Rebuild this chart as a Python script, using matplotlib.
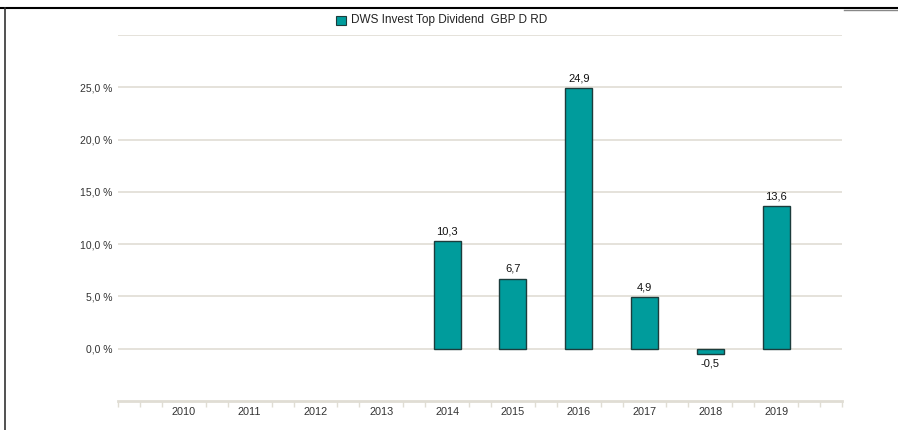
import numpy as np
import matplotlib.pyplot as plt
from matplotlib.lines import Line2D
from matplotlib.patches import Rectangle

plt.rcParams['font.family'] = ['Liberation Sans', 'DejaVu Sans']

# --- Datos ---------------------------------------------------------------
years = ['2010', '2011', '2012', '2013', '2014', '2015', '2016', '2017', '2018', '2019']
values = [np.nan, np.nan, np.nan, np.nan, 10.3, 6.7, 24.9, 4.9, -0.5, 13.6]
series_name = 'DWS Invest Top Dividend  GBP D RD'
y_ticks = [0, 5, 10, 15, 20, 25]

bar_col = '#009c9c'
edge_col = '#1c3c3c'
grid_col = '#e0ddd4'

# --- Figura --------------------------------------------------------------
fig = plt.figure(figsize=(8.98, 4.30), dpi=100)
ax = fig.add_axes([118/898, 1-401/430, (842-118)/898, (401-35)/430])

x = np.arange(len(years))
ax.bar(x, values, width=0.41, color=bar_col, edgecolor=edge_col, linewidth=1, zorder=3)

# etiquetas de valor
for xi, v in zip(x, values):
    if np.isnan(v):
        continue
    lab = f'{v:.1f}'.replace('.', ',')
    if v >= 0:
        ax.annotate(lab, (xi, v), xytext=(0, 3.5), textcoords='offset points',
                    ha='center', va='bottom', fontsize=8, color='#111111')
    else:
        ax.annotate(lab, (xi, v), xytext=(0, -3.5), textcoords='offset points',
                    ha='center', va='top', fontsize=8, color='#111111')

ax.set_xlim(-1, len(years))
ax.set_ylim(-5, 30)

# lineas de grilla horizontales
for yv in y_ticks + [30]:
    ax.axhline(yv, color=grid_col, linewidth=1.2, zorder=1)

ax.set_yticks(y_ticks)
ax.set_yticklabels([f'{t:.1f} %'.replace('.', ',') for t in y_ticks])
ax.tick_params(axis='y', length=0, pad=4, labelsize=7.5, labelcolor='#333333')

ax.set_xticks(x)
ax.set_xticklabels(years)
minor = [c + d for c in range(-1, len(years) + 1) for d in (-1/3, 1/3)]
minor += [-1, len(years)]
ax.set_xticks([m for m in minor if -1 <= m <= len(years)], minor=True)
ax.tick_params(axis='x', which='major', length=0, pad=4, labelsize=7.8, labelcolor='#333333')
ax.tick_params(axis='x', which='minor', length=4, width=1, color=grid_col, direction='out')

for s in ['top', 'right', 'left']:
    ax.spines[s].set_visible(False)
ax.spines['bottom'].set_color(grid_col)
ax.spines['bottom'].set_linewidth(2)

# --- Leyenda -------------------------------------------------------------
fig.patches.append(Rectangle((336/898, 1-25/430), 10/898, 9/430, transform=fig.transFigure,
                             facecolor=bar_col, edgecolor=edge_col, linewidth=0.8))
fig.text(351/898, 1-20.5/430, series_name, ha='left', va='center', fontsize=8.5, color='#222222')

# --- Borde ---------------------------------------------------------------
fig.add_artist(Line2D([0, 1], [1-8/430, 1-8/430], transform=fig.transFigure, color='black', linewidth=1.5))
fig.add_artist(Line2D([844/898, 1], [1-10/430, 1-10/430], transform=fig.transFigure, color='#888888', linewidth=1))
fig.add_artist(Line2D([5/898, 5/898], [0, 1-8/430], transform=fig.transFigure, color='#333333', linewidth=1.2))

fig.savefig('out.png', dpi=100)
